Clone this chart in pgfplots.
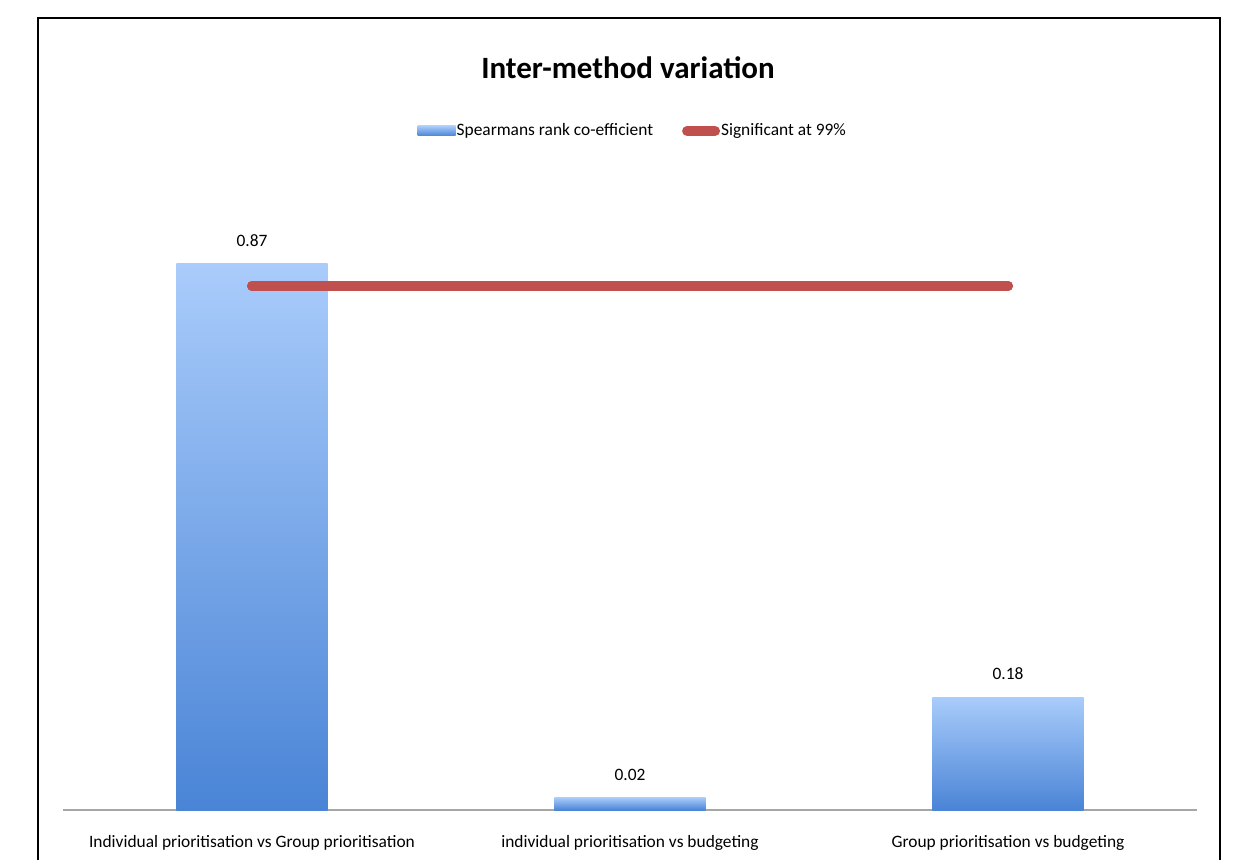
\documentclass[border=0pt]{standalone}
\usepackage{fontspec}
\setmainfont{Carlito}
\usepackage{pgfplots}
\pgfplotsset{compat=1.18}
\definecolor{barTop}{HTML}{A9CCFB}
\definecolor{barBot}{HTML}{4A84D6}
\definecolor{sigRed}{HTML}{C0504D}
\definecolor{axGray}{HTML}{A6A6A6}
\begin{document}
\begin{tikzpicture}
\useasboundingbox (0,0) rectangle (624pt,429.5pt);
\begin{scope}[x=0.5pt,y=0.5pt]
\draw[line width=1.2pt] (38,-5) -- (38,841) -- (1220,841) -- (1220,-5);
\node[font=\fontsize{15.5}{18}\selectfont\bfseries] at (628,791) {Inter-method variation};
\end{scope}
\begin{axis}[
  at={(31.5pt,24.5pt)}, anchor=south west,
  scale only axis, width=567pt, height=313.8pt,
  xmin=-0.5, xmax=2.5, ymin=0, ymax=1,
  axis x line=bottom, axis y line=none,
  x axis line style={-, draw=axGray, line width=1pt},
  xtick={0,1,2},
  xticklabels={Individual prioritisation vs Group prioritisation, individual prioritisation vs budgeting, Group prioritisation vs budgeting},
  major tick length=0pt,
  xticklabel style={font=\fontsize{8.7}{10}\selectfont, yshift=-9pt},
  ytick=\empty,
  clip=false,
  /pgf/number format/assume math mode=true,
  legend style={at={(rel axis cs:0.502,1.082)}, anchor=center, draw=none, fill=none,
    font=\fontsize{8.7}{10}\selectfont, legend columns=2,
    /tikz/every even column/.append style={column sep=14pt},
    cells={anchor=west}, nodes={inner xsep=0.5pt}},
  barstyle/.style={ybar, bar width=0.4, draw=none, top color=barTop, bottom color=barBot,
    nodes near coords, nodes near coords style={font=\fontsize{8.7}{10}\selectfont, yshift=5pt,
     /pgf/number format/.cd, fixed, fixed zerofill, precision=2},
    legend image code/.code={\shade[top color=barTop,bottom color=barBot] (0pt,-2.5pt) rectangle (19pt,2.5pt);}},
]
\addplot[barstyle] coordinates {(0,0.87)};
\addlegendentry{Spearmans rank co-efficient}
\addplot[sigRed, line width=5pt, line cap=round,
  legend image code/.code={\draw[sigRed,line width=5pt,line cap=round] (2.5pt,0pt) -- (16.5pt,0pt);}]
  coordinates {(0,0.835) (2,0.835)};
\addlegendentry{Significant at 99\%}
\addplot[barstyle, forget plot] coordinates {(1,0.02)};
\addplot[barstyle, forget plot] coordinates {(2,0.18)};
\addplot[sigRed, line width=5pt, line cap=round, forget plot]
  coordinates {(0,0.835) (2,0.835)};
\end{axis}
\end{tikzpicture}
\end{document}
